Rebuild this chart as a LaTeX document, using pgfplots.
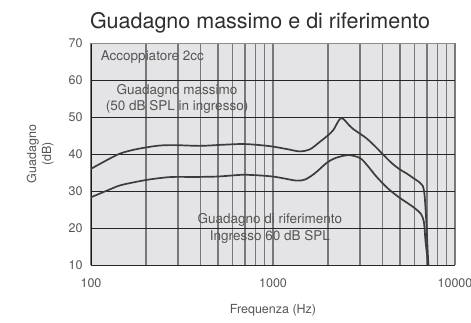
\documentclass[border=0pt]{standalone}
\usepackage{fontspec}
\setmainfont{TeX Gyre Heros}
\usepackage{pgfplots}
\pgfplotsset{compat=1.18}
\definecolor{bgpanel}{HTML}{E4E4E6}
\definecolor{vgrid}{HTML}{787878}
\definecolor{curve}{HTML}{3C3C3C}
\definecolor{txt}{HTML}{555555}
\definecolor{ttl}{HTML}{2E2E2E}
\begin{document}
\begin{tikzpicture}
\begin{axis}[
  scale only axis,
  width=364pt, height=222pt,
  xmode=log, log basis x=10,
  xmin=100, xmax=10000,
  ymin=10, ymax=70,
  ytick={10,20,...,70},
  xtick={100,1000,10000},
  xticklabels={100,1000,10000},
  minor xtick={200,300,400,500,600,700,800,900,2000,3000,4000,5000,6000,7000,8000,9000},
  /pgf/number format/assume math mode=true,
  yticklabel style={font=\fontsize{12.5}{12.5}\selectfont, text=txt, xshift=-5pt},
  xticklabel style={font=\fontsize{12.5}{12.5}\selectfont, text=txt, yshift=-10pt},
  major tick length=0pt, minor tick length=0pt,
  axis background/.style={fill=bgpanel},
  xmajorgrids, xminorgrids, ymajorgrids,
  major x grid style={vgrid, line width=1.5pt},
  minor x grid style={vgrid, line width=1.5pt},
  major y grid style={black!85, line width=0.8pt},
  axis line style={draw=none},
  title={Guadagno massimo e di riferimento},
  title style={font=\fontsize{21.5}{22}\selectfont, text=ttl, xshift=-13pt, yshift=0pt},
  xlabel={Frequenza (Hz)},
  xlabel style={font=\fontsize{12.5}{13}\selectfont, text=txt, yshift=-10pt},
  ylabel={Guadagno\\(dB)},
  ylabel style={font=\fontsize{12.5}{15}\selectfont, text=txt, align=center, yshift=8pt},
  clip=true,
]
% frame: dark left/bottom, lighter top/right
\draw[black!90, line width=0.9pt] (rel axis cs:0,1) -- (rel axis cs:0,0) -- (rel axis cs:1,0);
\draw[black!45, line width=0.8pt] (rel axis cs:0,1) -- (rel axis cs:1,1) -- (rel axis cs:1,0);

% maximum gain, 50 dB SPL input
\addplot[curve, line width=1.7pt, smooth, tension=0.5] coordinates {
  (100,36.0) (125,38.6) (144,40.1) (170,41.1) (202,41.8) (240,42.3)
  (290,42.4) (397,42.2) (530,42.5) (687,42.7) (850,42.4) (1000,42.0)
  (1200,41.3) (1406,40.7) (1600,41.3) (1800,43.2) (2000,45.0) (2146,46.5)
  (2280,48.8) (2367,49.7) (2470,49.2) (2594,48.0) (2750,46.8) (2882,46.1)
  (3270,44.2) (3650,42.0) (4038,39.8) (4500,37.5) (4985,35.8) (5400,34.8)
  (5900,33.5) (6400,32.3) (6650,31.4) (6800,29.0) (6950,22.0) (7136,10.0)
};

% reference gain, 60 dB SPL input
\addplot[curve, line width=1.7pt, smooth, tension=0.5] coordinates {
  (100,28.3) (125,30.3) (144,31.5) (170,32.3) (202,33.0) (240,33.5)
  (283,33.8) (380,33.8) (490,33.9) (600,34.2) (687,34.4) (850,34.2)
  (1000,33.9) (1150,33.4) (1348,32.8) (1500,33.1) (1700,34.8) (1973,37.6)
  (2200,38.9) (2594,39.7) (3007,38.9) (3300,36.9) (3713,33.8) (4300,30.6)
  (4985,28.1) (5500,26.7) (6028,25.3) (6500,23.8) (6750,21.5) (6900,16.0) (7136,10.0)
};

\node[text=txt, font=\fontsize{13.5}{14}\selectfont, anchor=west, inner sep=0pt] at (axis cs:113,66.3) {Accoppiatore 2cc};
\node[text=txt, font=\fontsize{13.5}{16.5}\selectfont, align=center, inner sep=0pt] at (axis cs:297,54.9) {Guadagno massimo\\(50 dB SPL in ingresso)};
\node[text=txt, font=\fontsize{13.5}{16.5}\selectfont, align=center, inner sep=0pt] at (axis cs:961,19.9) {Guadagno di riferimento\\Ingresso 60 dB SPL};
\end{axis}
\pgfresetboundingbox
\path[use as bounding box] (-91pt,-58pt) rectangle (380pt,265pt);
\end{tikzpicture}
\end{document}
